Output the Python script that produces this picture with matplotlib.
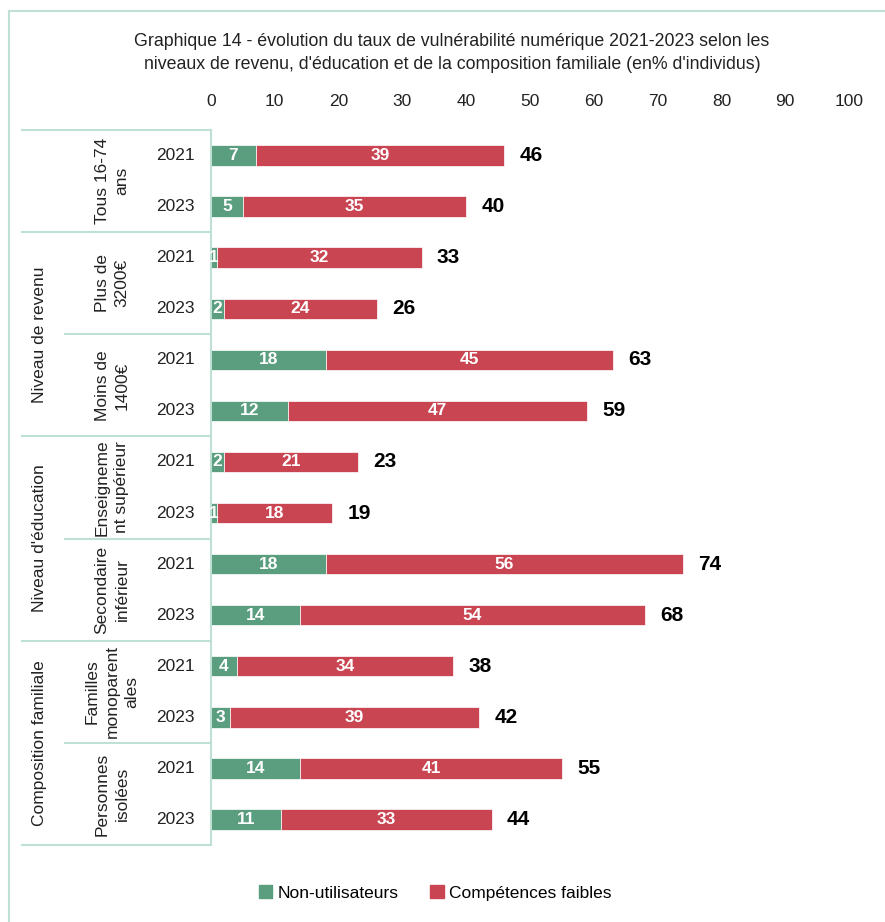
import matplotlib.pyplot as plt
from matplotlib.lines import Line2D
from matplotlib.patches import Patch

years = ['2021', '2023'] * 7
groups = ['Tous 16-74\nans', 'Plus de\n3200€', 'Moins de\n1400€',
          'Enseigneme\nnt supérieur', 'Secondaire\ninférieur',
          'Familles\nmonoparent\nales', 'Personnes\nisolées']
sections = ['Niveau de revenu', "Niveau d'éducation", 'Composition familiale']
non_util = [7, 5, 1, 2, 18, 12, 2, 1, 18, 14, 4, 3, 14, 11]
comp_faibles = [39, 35, 32, 24, 45, 47, 21, 18, 56, 54, 34, 39, 41, 33]
totals = [46, 40, 33, 26, 63, 59, 23, 19, 74, 68, 38, 42, 55, 44]

GREEN = '#5A9E7F'
RED = '#C84551'
LINE = '#BFE0D5'
TXT = '#222222'

plt.rcParams['font.family'] = ['Liberation Sans', 'DejaVu Sans']

fig = plt.figure(figsize=(8.85, 9.22), dpi=100)
W, H = 885, 922
ax = fig.add_axes([211 / W, 1 - 845 / H, (849 - 211) / W, (845 - 130) / H])

y = list(range(len(years)))
ax.barh(y, non_util, height=0.4, color=GREEN, edgecolor='white', linewidth=0.5)
ax.barh(y, comp_faibles, left=non_util, height=0.4, color=RED, edgecolor='white', linewidth=0.5)

for i in y:
    ax.text(non_util[i] / 2, i, str(non_util[i]), ha='center', va='center',
            color='white', fontsize=12.5, fontweight='bold')
    ax.text(non_util[i] + comp_faibles[i] / 2, i, str(comp_faibles[i]), ha='center',
            va='center', color='white', fontsize=12.5, fontweight='bold')
    ax.text(totals[i] + 2.4, i, str(totals[i]), ha='left', va='center',
            color='black', fontsize=15, fontweight='bold')

ax.set_xlim(0, 100)
ax.set_ylim(13.5, -0.5)
ax.set_xticks(range(0, 101, 10))
ax.xaxis.tick_top()
ax.tick_params(axis='x', length=0, labelsize=12.5, pad=15, colors=TXT)
ax.set_yticks([])
for s in ['top', 'right', 'bottom']:
    ax.spines[s].set_visible(False)
ax.spines['left'].set_color(LINE)
ax.spines['left'].set_linewidth(1.5)

# category table on the left
tr = ax.get_yaxis_transform()
x_full = (22 - 211) / (849 - 211)
x_part = (65 - 211) / (849 - 211)
for b, full in [(-0.5, True), (1.5, True), (3.5, False), (5.5, True),
                (7.5, False), (9.5, True), (11.5, False), (13.5, True)]:
    ax.add_line(Line2D([x_full if full else x_part, 0], [b, b], transform=tr,
                       color=LINE, lw=1.5, clip_on=False))

x_year = (175 - 211) / (849 - 211)
x_group = (112 - 211) / (849 - 211)
x_sect = (40 - 211) / (849 - 211)
for i in y:
    ax.text(x_year, i, years[i], transform=tr, ha='center', va='center',
            fontsize=12.5, color=TXT)
for k, g in enumerate(groups):
    ax.text(x_group, 2 * k + 0.5, g, transform=tr, ha='center', va='center',
            rotation=90, fontsize=12.5, color=TXT, multialignment='center',
            linespacing=1.4)
for k, s in enumerate(sections):
    ax.text(x_sect, 4 * k + 3.5, s, transform=tr, ha='center', va='center',
            rotation=90, fontsize=12.5, color=TXT)

fig.text(452 / W, 1 - 53 / H,
         "Graphique 14 - évolution du taux de vulnérabilité numérique 2021-2023 selon les\n"
         "niveaux de revenu, d'éducation et de la composition familiale (en% d'individus)",
         ha='center', va='center', fontsize=12.8, color=TXT, linespacing=1.4)

handles = [Patch(color=GREEN, label='Non-utilisateurs'),
           Patch(color=RED, label='Compétences faibles')]
fig.legend(handles=handles, loc='center', bbox_to_anchor=(435 / W, 1 - 893 / H),
           ncol=2, frameon=False, fontsize=12.5, handlelength=0.8, handleheight=0.8,
           handletextpad=0.3, columnspacing=1.8)

# outer frame
fig.add_artist(Line2D([9 / W, 1], [1 - 11 / H] * 2, color=LINE, lw=1.5))
fig.add_artist(Line2D([9 / W] * 2, [0, 1 - 11 / H], color=LINE, lw=1.5))

fig.savefig('out.png', dpi=100)
